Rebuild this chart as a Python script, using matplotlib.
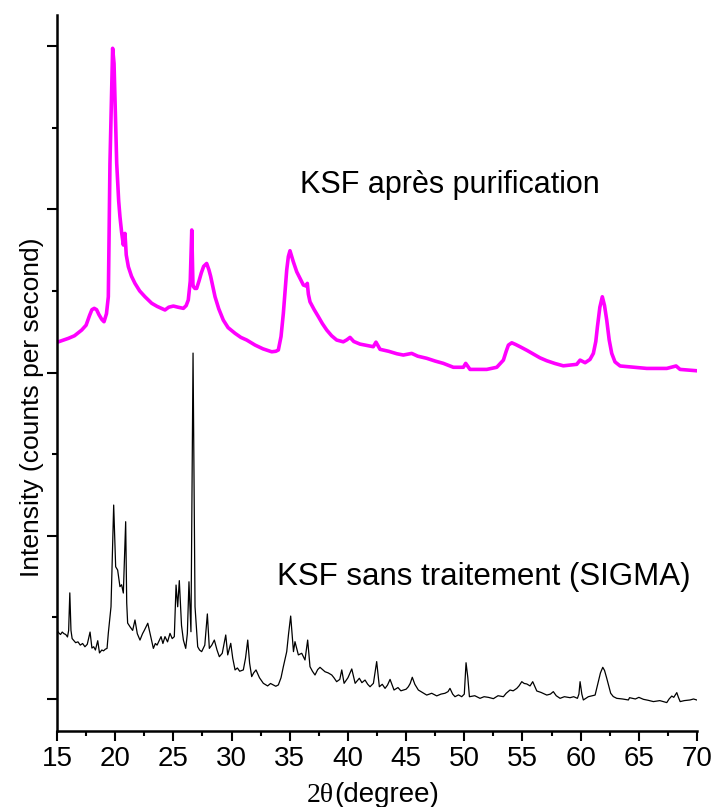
"""XRD patterns of KSF clay before and after purification."""

import matplotlib
matplotlib.use("Agg")
import matplotlib.pyplot as plt
from matplotlib.offsetbox import TextArea, HPacker, AnchoredOffsetbox
from matplotlib.ticker import MultipleLocator

# KSF sans traitement (SIGMA) -- raw commercial clay
raw_2theta = [
    15.0, 15.15, 15.3, 15.45, 15.6, 15.75, 15.9, 16.0, 16.1, 16.2, 16.3,
    16.6, 16.8, 17.0, 17.2, 17.4, 17.6, 17.84, 18.0, 18.15, 18.3, 18.5, 18.65,
    18.85, 19.0, 19.15, 19.3, 19.41, 19.64, 19.87, 20.04, 20.21, 20.41, 20.55,
    20.7, 20.9, 20.99, 21.07, 21.27, 21.5, 21.7, 21.9, 22.13, 22.35, 22.5,
    22.8, 23.0, 23.28, 23.45, 23.6, 23.94, 24.1, 24.28, 24.5, 24.71, 24.9,
    25.08, 25.23, 25.37, 25.51, 25.7, 25.86, 26.06, 26.2, 26.34, 26.51, 26.69,
    26.86, 27.09, 27.25, 27.43, 27.7, 27.92, 28.09, 28.3, 28.52, 28.75, 28.95,
    29.2, 29.5, 29.67, 29.93, 30.1, 30.3, 30.5, 30.7, 31.01, 31.2, 31.39,
    31.55, 31.73, 31.9, 32.1, 32.4, 32.73, 33.1, 33.35, 33.59, 33.8, 34.02,
    34.25, 34.45, 34.74, 34.9, 35.08, 35.32, 35.45, 35.74, 36.03, 36.31,
    36.54, 36.74, 36.95, 37.17, 37.4, 37.6, 38.03, 38.3, 38.61, 38.8, 39.03,
    39.3, 39.47, 39.67, 40.0, 40.33, 40.62, 40.98, 41.2, 41.47, 41.7, 41.9,
    42.19, 42.47, 42.7, 42.95, 43.19, 43.4, 43.62, 43.96, 44.3, 44.55, 44.76,
    45.0, 45.19, 45.35, 45.53, 45.75, 46.05, 46.4, 46.77, 47.2, 47.63, 48.0,
    48.34, 48.6, 48.77, 49.0, 49.2, 49.5, 49.78, 50.0, 50.15, 50.3, 50.44,
    50.9, 51.35, 51.7, 52.07, 52.5, 52.9, 53.36, 53.6, 53.93, 54.2, 54.51,
    54.7, 54.94, 55.15, 55.37, 55.65, 55.88, 56.23, 56.6, 57.09, 57.4, 57.65,
    57.9, 58.23, 58.6, 59.09, 59.4, 59.72, 59.85, 59.95, 60.1, 60.23, 60.66,
    61.0, 61.24, 61.52, 61.7, 61.9, 62.05, 62.24, 62.58, 62.8, 63.1, 63.6,
    64.1, 64.2, 64.7, 65.0, 65.39, 65.8, 66.25, 66.8, 67.4, 67.6, 67.83, 68.0,
    68.26, 68.4, 68.55, 68.9, 69.4, 69.7, 69.97,
]
raw_counts = [
    420, 405, 395, 410, 400, 395, 380, 420, 650, 420, 370,
    345, 350, 330, 340, 320, 335, 410, 312, 320, 300, 357, 282,
    300, 295, 305, 310, 404, 565, 1188, 810, 790, 688, 700,
    649, 1086, 588, 465, 443, 420, 484, 400, 361, 400, 420,
    464, 400, 310, 340, 330, 382, 340, 382, 350, 402, 370,
    382, 698, 565, 725, 450, 361, 310, 400, 718, 412, 2119,
    565, 320, 300, 290, 330, 521, 310, 330, 361, 300, 259,
    280, 392, 270, 341, 250, 178, 190, 170, 178, 250, 361,
    220, 137, 160, 178, 130, 96, 80, 95, 86, 78, 86,
    130, 198, 290, 400, 508, 290, 351, 270, 280, 239,
    361, 198, 170, 147, 180, 194, 167, 160, 147, 130, 106,
    120, 178, 96, 130, 184, 96, 127, 100, 116, 90, 75,
    96, 229, 75, 90, 65, 85, 120, 55, 70, 50, 55,
    60, 75, 95, 133, 90, 55, 40, 24, 35, 19, 30,
    35, 45, 65, 30, 14, 25, 14, 30, 222, 133, 14,
    20, 4, 14, 10, 2, 20, 14, 35, 55, 50, 65,
    80, 106, 95, 92, 80, 106, 49, 40, 24, 30, 45,
    20, 4, 14, 8, 14, 4, 30, 106, 30, -6, 14,
    20, 24, 106, 160, 194, 175, 127, 35, 15, 4, 0,
    -6, 8, 0, 10, -2, -8, -16, -10, -22, 0, 18, 10,
    39, 10, -16, -10, -6, 0, -6,
]

# KSF après purification
pur_2theta = [
    15.0, 15.97, 16.5, 17.12, 17.5, 17.8, 18.0, 18.2, 18.4, 18.6, 18.85,
    19.04, 19.25, 19.41, 19.55, 19.78, 19.9, 20.13, 20.3, 20.41, 20.55, 20.7,
    20.84, 20.95, 21.13, 21.4, 21.7, 22.1, 22.56, 23.14, 23.6, 24.28, 24.6,
    25.0, 25.4, 25.86, 26.1, 26.28, 26.45, 26.58, 26.68, 26.73, 26.85, 27.0,
    27.2, 27.4, 27.6, 27.86, 28.05, 28.2, 28.58, 28.9, 29.29, 29.7, 30.3,
    30.8, 31.3, 32.02, 32.7, 33.45, 33.8, 34.02, 34.25, 34.45, 34.6, 34.74,
    34.88, 35.02, 35.3, 35.6, 35.9, 36.17, 36.4, 36.51, 36.6, 36.74, 37.1,
    37.46, 37.8, 38.18, 38.6, 39.03, 39.6, 39.9, 40.18, 40.5, 41.04, 42.18,
    42.41, 42.76, 43.5, 44.2, 44.76, 45.48, 46.0, 46.77, 47.5, 48.2, 49.06,
    49.92, 50.12, 50.49, 51.93, 52.79, 53.36, 53.6, 53.79, 54.08, 54.4,
    54.79, 55.4, 55.94, 56.5, 57.09, 57.8, 58.51, 59.66, 59.95, 60.38, 60.8,
    61.09, 61.3, 61.44, 61.65, 61.86, 62.05, 62.24, 62.45, 62.67, 62.95,
    63.39, 65.68, 67.4, 68.2, 68.54, 69.92,
]
pur_counts = [
    2185, 2209, 2225, 2260, 2290, 2350, 2385, 2393, 2385, 2355, 2325,
    2311, 2360, 2464, 3281, 3986, 3894, 3281, 3050, 2954, 2860, 2781,
    2852, 2720, 2648, 2590, 2546, 2500, 2464, 2424, 2405, 2383, 2400,
    2407, 2400, 2393, 2410, 2444, 2560, 2873, 2540, 2525, 2515, 2515,
    2560, 2610, 2650, 2668, 2630, 2590, 2464, 2390, 2321, 2275, 2240,
    2215, 2199, 2168, 2145, 2127, 2130, 2138, 2220, 2362, 2500, 2628,
    2710, 2746, 2680, 2617, 2575, 2536, 2530, 2546, 2480, 2433, 2385,
    2342, 2300, 2260, 2225, 2199, 2188, 2200, 2215, 2190, 2174, 2158,
    2186, 2142, 2130, 2115, 2107, 2117, 2100, 2087, 2070, 2056, 2032,
    2032, 2056, 2019, 2019, 2032, 2076, 2130, 2168, 2182, 2172,
    2158, 2135, 2113, 2090, 2072, 2055, 2041, 2050, 2076, 2060, 2080,
    2117, 2190, 2280, 2400, 2464, 2410, 2321, 2200, 2117, 2065,
    2040, 2025, 2025, 2040, 2019, 2011,
]

FONT = "Liberation Sans"
SERIF = "Liberation Serif"


def main():
    fig = plt.figure(figsize=(7.18, 8.07), dpi=100)
    ax = fig.add_axes([0.0794, 0.0942, 0.8914, 0.8872])

    ax.plot(raw_2theta, raw_counts, color="black", lw=0.9)
    ax.plot(pur_2theta, pur_counts, color="#ff00ff", lw=2.6)

    ax.set_xlim(15, 70)
    ax.set_ylim(-196, 4190)

    for side in ("top", "right"):
        ax.spines[side].set_visible(False)
    for side in ("left", "bottom"):
        ax.spines[side].set_linewidth(1.8)

    ax.xaxis.set_major_locator(MultipleLocator(5))
    ax.xaxis.set_minor_locator(MultipleLocator(2.5))
    ax.yaxis.set_major_locator(MultipleLocator(1000))
    ax.yaxis.set_minor_locator(MultipleLocator(500))
    ax.tick_params(which="major", length=7, width=1.5, direction="out")
    ax.tick_params(which="minor", length=3.5, width=1.5, direction="out")
    ax.tick_params(axis="y", which="both", labelleft=False)
    ax.tick_params(axis="x", labelsize=20, pad=4)
    for lab in ax.get_xticklabels():
        lab.set_fontfamily(FONT)

    ax.set_ylabel("Intensity (counts per second)", fontsize=19, family=FONT)
    ax.yaxis.set_label_coords(-0.02, 0.4525)

    ax.text(35.9, 3148, "KSF après purification", fontsize=22,
            family=FONT, va="center", ha="left")
    ax.text(33.9, 747, "KSF sans traitement (SIGMA)", fontsize=22.5,
            family=FONT, va="center", ha="left")

    # x label: serif "2θ" followed by sans "(degree)"
    xlab = HPacker(children=[
        TextArea("2θ", textprops=dict(fontsize=20, family=SERIF)),
        TextArea("(degree)", textprops=dict(fontsize=20, family=FONT)),
    ], align="baseline", pad=0, sep=0)
    box = AnchoredOffsetbox(loc="center", child=xlab, frameon=False,
                            bbox_to_anchor=(373 / 718, 1 - 795 / 807),
                            bbox_transform=fig.transFigure, pad=0,
                            borderpad=0)
    fig.add_artist(box)

    fig.savefig("out.png", dpi=100)
    plt.close(fig)


if __name__ == "__main__":
    main()
